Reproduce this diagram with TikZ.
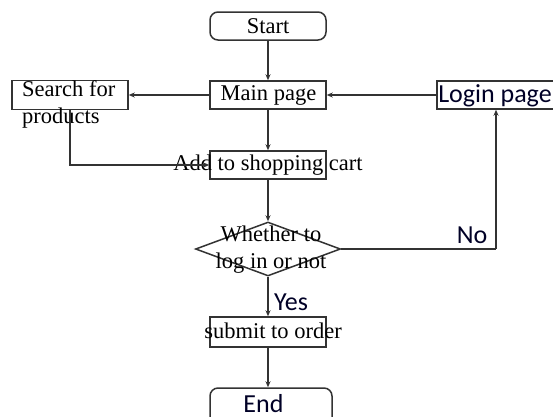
\documentclass[tikz,border=0pt]{standalone}
\usepackage{fontspec}
\setmainfont{Liberation Serif}
\newfontfamily\sansfam{Carlito}
\usetikzlibrary{shapes.geometric,arrows.meta}
\begin{document}
\begin{tikzpicture}[x=1pt,y=-1pt,
  line/.style={draw=black!80, line width=1.5pt},
  box/.style={rectangle, draw=black!80, line width=1.5pt, fill=white, inner sep=0pt},
  term/.style={box, rounded corners=8pt},
  decision/.style={diamond, draw=black!80, line width=1.5pt, inner sep=0pt},
  serif/.style={font=\fontsize{22.5}{27}\selectfont, inner sep=0pt, text=black},
  sans/.style={font=\sansfam\fontsize{26}{30}\selectfont, inner sep=0pt, text=black!85!blue, anchor=base},
  arrow/.style={line, -{Stealth[length=6pt,width=5pt]}}]

\clip (0,0) rectangle (553,416);

% boxes
\node[term, minimum width=116, minimum height=28] (start) at (268,26) {};
\node[box, minimum width=116, minimum height=28] (main) at (268,95) {};
\node[box, minimum width=116, minimum height=29] (search) at (70,95) {};
\node[box, minimum width=133, minimum height=28] (login) at (503.5,95) {};
\node[box, minimum width=116, minimum height=28] (cart) at (268,165) {};
\node[decision, minimum width=145, minimum height=54] (dec) at (268,249) {};
\node[box, minimum width=116, minimum height=30] (submit) at (268,332) {};
\node[term, minimum width=122, minimum height=42] (end) at (271,409) {};

% texts
\node[serif] (starttxt) at (268,26) {Start};
\node[serif] (maintxt) at (268.5,95) {Main page};
\node[serif, align=left, anchor=north west] (searchtxt) at (22,80) {Search for\\products};
\node[sans] (logintxt) at (495,102) {Login page};
\node[serif] (carttxt) at (268,165) {Add to shopping cart};
\node[serif, align=center] (dectxt) at (271,250) {Whether to\\log in or not};
\node[serif] (submittxt) at (273,331) {submit to order};
\node[sans] (endtxt) at (263.5,412) {End};
\node[sans] (notxt) at (472,243) {No};
\node[sans] (yestxt) at (291,310) {Yes};

% connectors
\coordinate (noturn) at (496,249);
\draw[arrow] (start.south) -- (main.north);
\draw[arrow] (main.west) -- (search.east);
\draw[arrow] (login.west) -- (main.east);
\draw[arrow] (main.south) -- (cart.north);
\draw[arrow] (search.south) |- (cart.west);
\draw[arrow] (cart.south) -- (dec.north);
\draw[line] (dec.east) -- (noturn);
\draw[arrow] (noturn) -- (noturn |- login.south);
\draw[arrow] (dec.south) -- (submit.north);
\draw[arrow] (submit.south) -- (submit.south |- end.north);
\end{tikzpicture}
\end{document}
